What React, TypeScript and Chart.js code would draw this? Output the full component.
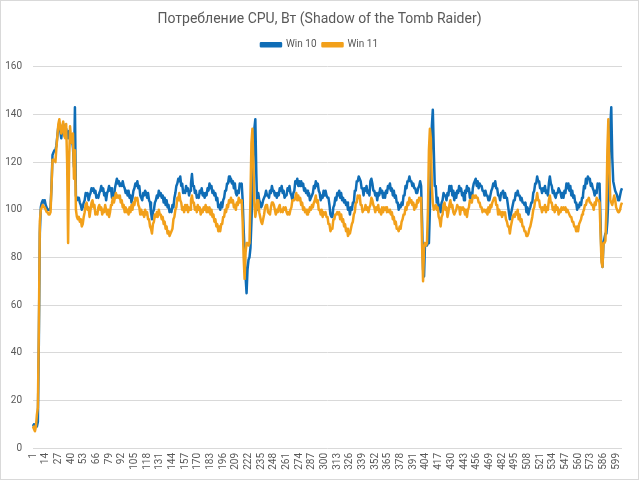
import React, { useEffect, useRef } from "react";
import { Chart, registerables } from "chart.js";

Chart.register(...registerables);

const TITLE = "Потребление CPU, Вт (Shadow of the Tomb Raider)";
const SERIES_NAMES = ["Win 10", "Win 11"];
const Y_MIN = 0;
const Y_MAX = 160;
const Y_STEP = 20;
const LABEL_STEP = 13;
const POINT_COUNT = 605;
const categories = Array.from({ length: POINT_COUNT }, (_, i) => String(i + 1));

// ---- Win 10 (blue) ----
const win10Start = [
  10, 9, 9, 10, 9, 11, 45, 90, 101, 103,
  104, 103, 104, 102, 101, 100, 100, 100, 101, 110,
  123, 124, 125, 125, 127, 131, 135, 136, 133, 130,
  134, 136, 134, 132, 134, 132, 130, 133, 131, 128,
  130, 126, 118, 143, 106, 104, 105,
];
const win10Run1 = [
  105, 103, 102, 100, 101, 103, 104, 107, 106, 107,
  104, 106, 107, 109, 108, 109, 107, 108, 105, 106,
  105, 107, 108, 110, 108, 109, 106, 107, 104, 107,
  108, 110, 108, 109, 105, 106, 105, 109, 111, 113,
  111, 112, 110, 111, 110, 112, 110, 109, 107, 108,
  106, 108, 105, 106, 103, 105, 108, 109, 111, 110,
  112, 109, 110, 106, 105, 104, 107, 106, 108, 107,
  105, 107, 104, 103, 99, 96, 99, 100, 103, 104,
  106, 105, 108, 106, 107, 105, 106, 103, 105, 102,
  104, 101, 102, 99, 100, 99, 102, 101, 105, 107,
  110, 111, 113, 112, 114, 110, 111, 107, 108, 107,
  110, 108, 109, 106, 108, 111, 115, 110, 110, 107,
  108, 105, 106, 105, 108, 107, 109, 106, 107, 105,
  107, 106, 109, 108, 111, 109, 110, 107, 108, 106,
  107, 104, 105, 101, 102, 100, 103, 101, 104, 105,
  108, 108, 111, 111, 114, 112, 113, 111, 112, 109,
  111, 107, 106, 108, 107, 111, 110, 111,
];
const win10Drop1 = [104, 92, 82, 72, 65, 75, 79, 80, 84, 95, 108, 122, 134, 138, 115, 100];
const win10Run2 = [
  107, 104, 103, 101, 102, 104, 105, 106, 108, 106,
  106, 105, 108, 107, 110, 108, 108, 106, 107, 105,
  107, 106, 109, 108, 110, 107, 108, 105, 106, 106,
  109, 108, 110, 107, 106, 104, 107, 108, 112, 111,
  113, 110, 112, 110, 112, 110, 111, 108, 109, 107,
  108, 106, 107, 104, 105, 106, 107, 110, 109, 112,
  110, 111, 108, 107, 104, 106, 105, 108, 106, 108,
  106, 105, 105, 102, 98, 97, 97, 101, 102, 105,
  104, 107, 106, 108, 105, 107, 104, 105, 103, 104,
  102, 103, 100, 101, 98, 101, 100, 103, 103, 108,
  108, 112, 112, 114, 113, 112, 109, 109, 106, 109,
  108, 110, 107, 108, 106, 112, 113, 111, 108, 108,
  106, 107, 104, 107, 106, 109, 107, 108, 105, 107,
  105, 108, 107, 110, 109, 111, 108, 109, 106, 108,
  105, 106, 103, 103, 100, 102, 101, 103, 102, 106,
  106, 110, 109, 112, 112, 114, 112, 112, 110, 111,
  109, 109, 107, 107, 109, 110, 112, 110,
];
const win10Drop2 = [95, 75, 72, 86, 86, 85, 86, 86, 100, 120, 135, 142, 125, 110, 110];
const win10Run3 = [
  103, 105, 101, 102, 99, 103, 104, 107, 106, 106,
  104, 107, 106, 110, 108, 110, 106, 108, 104, 107,
  105, 108, 107, 110, 108, 109, 106, 107, 104, 108,
  107, 110, 108, 109, 105, 107, 104, 109, 111, 112,
  113, 110, 112, 109, 111, 110, 110, 108, 108, 106,
  108, 106, 106, 104, 104, 106, 108, 109, 111, 110,
  112, 109, 109, 106, 106, 104, 107, 107, 108, 105,
  107, 105, 105, 102, 99, 96, 98, 100, 102, 104,
  104, 107, 106, 108, 106, 106, 104, 105, 103, 103,
  102, 103, 99, 101, 98, 100, 101, 103, 103, 107,
  108, 111, 111, 114, 112, 112, 109, 109, 107, 109,
  108, 110, 107, 108, 106, 111, 114, 111, 110, 107,
  108, 106, 105, 107, 107, 109, 108, 107, 105, 107,
  105, 108, 107, 111, 109, 111, 108, 110, 106, 108,
  105, 106, 103, 103, 100, 102, 101, 103, 102, 105,
  106, 110, 109, 113, 111, 114, 113, 113, 110, 111,
  109, 108, 106, 108, 107, 111, 110, 111,
];
const win10End = [95, 80, 76, 86, 88, 90, 90, 95, 105, 120, 135, 143, 122, 112, 110, 108, 107, 106, 104, 104, 106, 108, 109];

// ---- Win 11 (orange) ----
const win11Start = [
  9, 8, 7, 9, 14, 17, 50, 95, 100, 101,
  102, 101, 101, 100, 99, 99, 98, 98, 99, 110,
  121, 121, 121, 120, 126, 131, 136, 138, 134, 132,
  135, 137, 131, 130, 136, 120, 86, 120, 135, 130,
  128, 132, 113, 125, 100, 97, 96,
];
const win11Run1 = [
  97, 95, 96, 93, 94, 97, 99, 102, 103, 100,
  101, 97, 100, 103, 104, 101, 102, 98, 99, 98,
  101, 102, 100, 101, 98, 100, 99, 102, 100, 98,
  100, 97, 99, 102, 103, 105, 103, 105, 107, 105,
  106, 105, 106, 103, 104, 101, 102, 99, 101, 99,
  100, 98, 101, 99, 102, 100, 103, 102, 105, 104,
  105, 102, 101, 98, 100, 98, 99, 97, 100, 98,
  99, 96, 96, 93, 92, 90, 94, 95, 98, 97,
  99, 97, 100, 98, 98, 96, 97, 94, 95, 92,
  93, 90, 91, 89, 90, 91, 92, 96, 97, 100,
  101, 105, 104, 107, 104, 103, 100, 101, 99, 102,
  100, 102, 99, 101, 100, 104, 106, 103, 103, 100,
  101, 99, 102, 100, 101, 98, 100, 99, 101, 100,
  102, 99, 101, 99, 101, 98, 100, 97, 98, 95,
  96, 93, 94, 91, 93, 91, 94, 94, 97, 97,
  100, 99, 102, 101, 104, 103, 105, 103, 104, 101,
  102, 100, 103, 102, 105, 103, 104, 104,
];
const win11Drop1 = [95, 80, 71, 82, 86, 86, 85, 86, 105, 128, 134, 120, 102, 97, 100, 104];
const win11Run2 = [
  104, 99, 97, 95, 94, 96, 98, 101, 102, 102,
  99, 99, 98, 101, 103, 103, 102, 100, 98, 100,
  99, 101, 102, 99, 100, 99, 101, 100, 101, 99,
  98, 99, 98, 100, 101, 104, 104, 104, 105, 107,
  104, 106, 104, 105, 102, 103, 100, 101, 99, 100,
  98, 100, 99, 101, 100, 102, 101, 103, 104, 106,
  103, 104, 100, 100, 98, 100, 97, 99, 98, 99,
  97, 97, 94, 94, 91, 92, 92, 96, 96, 98,
  98, 99, 98, 99, 96, 98, 95, 96, 93, 94,
  91, 92, 89, 90, 90, 92, 94, 95, 98, 99,
  103, 103, 106, 105, 106, 102, 102, 99, 100, 100,
  102, 100, 101, 99, 101, 102, 105, 104, 102, 101,
  99, 101, 100, 102, 99, 100, 98, 101, 99, 101,
  100, 101, 99, 100, 99, 100, 98, 99, 96, 97,
  94, 95, 92, 92, 91, 93, 92, 95, 96, 98,
  98, 101, 100, 103, 102, 105, 103, 104, 102, 103,
  100, 102, 101, 104, 103, 105, 104, 105,
];
const win11Drop2 = [85, 70, 84, 86, 85, 86, 100, 125, 134, 130, 110, 103, 100, 101, 102];
const win11Run3 = [
  100, 101, 97, 96, 93, 97, 98, 102, 103, 100,
  101, 97, 99, 102, 104, 101, 102, 99, 98, 99,
  100, 102, 101, 101, 98, 101, 100, 101, 100, 98,
  100, 97, 100, 101, 104, 104, 103, 106, 106, 105,
  106, 105, 105, 103, 103, 101, 101, 99, 100, 100,
  99, 100, 98, 101, 99, 102, 101, 103, 104, 105,
  105, 102, 102, 98, 100, 98, 99, 97, 99, 98,
  99, 96, 95, 93, 93, 90, 93, 95, 97, 98,
  97, 99, 98, 100, 96, 98, 95, 96, 93, 93,
  91, 91, 89, 89, 90, 92, 93, 95, 97, 100,
  101, 104, 104, 107, 104, 104, 101, 101, 99, 101,
  100, 102, 99, 101, 100, 104, 106, 103, 103, 100,
  101, 99, 102, 100, 101, 98, 100, 99, 101, 100,
  101, 100, 101, 99, 100, 99, 98, 97, 97, 95,
  95, 93, 93, 91, 93, 91, 94, 95, 96, 98,
  99, 100, 102, 102, 104, 104, 105, 103, 103, 102,
  102, 100, 103, 102, 105, 104, 104, 103,
];
const win11End = [90, 78, 76, 86, 86, 87, 100, 125, 138, 118, 104, 103, 102, 104, 106, 104, 101, 100, 99, 99, 100, 102, 103];

const win10 = [...win10Start, ...win10Run1, ...win10Drop1, ...win10Run2, ...win10Drop2, ...win10Run3, ...win10End];
const win11 = [...win11Start, ...win11Run1, ...win11Drop1, ...win11Run2, ...win11Drop2, ...win11Run3, ...win11End];

const BLUE = "#0F6DB6";
const ORANGE = "#F2A01A";
const TEXT = "#595959";
const GRID = "#d9d9d9";
const FONT = 'Roboto, "Noto Sans", sans-serif';

export default function App() {
  const ref = useRef<HTMLCanvasElement>(null);

  useEffect(() => {
    document.body.style.margin = "0";
    const canvas = ref.current;
    if (!canvas) return;

    const legendSpacer = {
      id: "legendSpacer",
      beforeLayout(chart: any) {
        const lg = chart.legend;
        if (lg && !lg.__patched) {
          const orig = lg.fit.bind(lg);
          lg.fit = function () {
            orig();
            this.height += 7;
          };
          lg.__patched = true;
        }
      },
    };
    const frame = {
      id: "frame",
      afterDraw(chart: any) {
        const c = chart.ctx;
        c.save();
        c.strokeStyle = GRID;
        c.lineWidth = 1;
        c.strokeRect(0.5, 0.5, chart.width - 1, chart.height - 1);
        c.restore();
      },
    };

    const chart = new Chart(canvas, {
      type: "line",
      data: {
        labels: categories,
        datasets: [
          {
            label: SERIES_NAMES[0],
            data: win10,
            borderColor: BLUE,
            backgroundColor: BLUE,
            borderWidth: 2.5,
            pointRadius: 0,
            tension: 0,
            order: 2,
            borderJoinStyle: "round",
          },
          {
            label: SERIES_NAMES[1],
            data: win11,
            borderColor: ORANGE,
            backgroundColor: ORANGE,
            borderWidth: 2.5,
            pointRadius: 0,
            tension: 0,
            order: 1,
            borderJoinStyle: "round",
          },
        ],
      },
      options: {
        responsive: false,
        animation: false,
        layout: { padding: { top: 0, left: 0, right: 0, bottom: 0 } },
        font: { family: FONT },
        plugins: {
          title: {
            display: true,
            text: TITLE,
            color: TEXT,
            font: { family: FONT, size: 14, weight: "normal" },
            padding: { top: 11, bottom: 6 },
          },
          legend: {
            display: true,
            position: "top",
            labels: {
              color: TEXT,
              font: { family: FONT, size: 10 },
              boxWidth: 20,
              boxHeight: 3,
              padding: 6,
              sort: (a: any, b: any) => a.datasetIndex - b.datasetIndex,
            },
          },
          tooltip: { enabled: false },
        },
        scales: {
          x: {
            type: "category",
            offset: false,
            grid: { display: false, drawTicks: false },
            border: { display: false },
            ticks: {
              autoSkip: false,
              minRotation: 90,
              maxRotation: 90,
              padding: 5,
              color: TEXT,
              font: { family: FONT, size: 10 },
              callback: (_v: any, i: number) => (i % LABEL_STEP === 0 ? categories[i] : ""),
            },
            afterFit: (s: any) => {
              s.height = 32;
            },
          },
          y: {
            min: Y_MIN,
            max: Y_MAX,
            grid: { color: GRID, lineWidth: 1, drawTicks: false },
            border: { display: false },
            ticks: {
              stepSize: Y_STEP,
              padding: 11,
              color: TEXT,
              font: { family: FONT, size: 10 },
            },
            afterFit: (s: any) => {
              s.width = 33;
            },
          },
          yRight: {
            position: "right",
            display: true,
            grid: { display: false, drawTicks: false },
            border: { display: false },
            ticks: { display: false },
            afterFit: (s: any) => {
              s.width = 11;
            },
          },
        },
      },
      plugins: [legendSpacer, frame],
    });

    return () => chart.destroy();
  }, []);

  return (
    <div style={{ width: 639, height: 480, background: "#fff" }}>
      <canvas ref={ref} width={639} height={480} style={{ display: "block" }} />
    </div>
  );
}
